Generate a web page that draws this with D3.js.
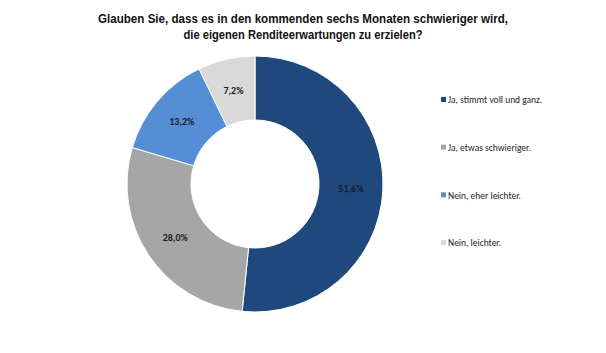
<!DOCTYPE html>
<html><head><meta charset="utf-8">
<script src="https://cdn.jsdelivr.net/npm/d3@7"></script>
<style>body{margin:0;background:#fff}</style>
</head><body>
<svg id="c" width="606" height="353"></svg>
<script>
const categories = ["Ja, stimmt voll und ganz.", "Ja, etwas schwieriger.", "Nein, eher leichter.", "Nein, leichter."];
const values = [51.6, 28.0, 13.2, 7.2];
const labels = ["51,6%", "28,0%", "13,2%", "7,2%"];
const colors = ["#1F497D", "#A6A6A6", "#558ED5", "#D9D9D9"];
const titleLines = ["Glauben Sie, dass es in den kommenden sechs Monaten schwieriger wird,", "die eigenen Renditeerwartungen zu erzielen?"];
const titleWidths = [410, 239];

const svg = d3.select("#c");
svg.append("g").selectAll("text").data(titleLines).join("text")
  .attr("x", 303).attr("y", (d,i) => 23 + i*16)
  .attr("text-anchor", "middle")
  .attr("font-family", "'Liberation Sans', Arial, sans-serif")
  .attr("font-weight", "bold").attr("font-size", 12.5).attr("fill", "#111")
  .attr("textLength", (d,i) => titleWidths[i]).attr("lengthAdjust", "spacingAndGlyphs")
  .text(d => d);

const cx = 255, cy = 184, R = 128, r = 64;
const pie = d3.pie().sort(null).value(d => d);
const arc = d3.arc().innerRadius(r).outerRadius(R);
const g = svg.append("g").attr("transform", `translate(${cx},${cy})`);
const arcs = pie(values);
g.selectAll("path").data(arcs).join("path")
  .attr("d", arc).attr("fill", (d,i) => colors[i])
  .attr("stroke", "#fff").attr("stroke-width", 1);
g.selectAll("text").data(arcs).join("text")
  .attr("transform", d => `translate(${arc.centroid(d)})`)
  .attr("text-anchor", "middle").attr("dy", "0.35em")
  .attr("font-family", "Carlito, 'Liberation Sans', sans-serif")
  .attr("font-weight", "bold").attr("font-size", 10).attr("fill", "#1a1a24")
  .text((d,i) => labels[i]);

const y = d3.scalePoint().domain(categories).range([100, 243]);
const lg = svg.append("g");
const items = lg.selectAll("g").data(categories).join("g")
  .attr("transform", d => `translate(441,${y(d)})`);
items.append("rect").attr("x", 0).attr("y", -3).attr("width", 5).attr("height", 5)
  .attr("fill", (d,i) => colors[i]);
items.append("text").attr("x", 7).attr("dy", "0.35em")
  .attr("font-family", "Carlito, 'Liberation Sans', sans-serif")
  .attr("font-size", 9.5).attr("fill", "#262626")
  .text(d => d);
</script>
</body></html>
